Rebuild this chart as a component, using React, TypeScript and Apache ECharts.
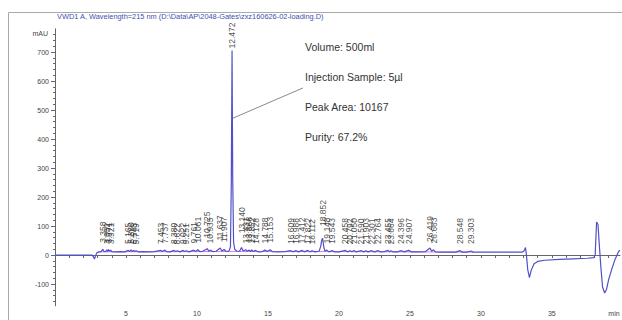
import React, { useEffect, useRef } from "react";
import * as echarts from "echarts";

const titleText = "VWD1 A, Wavelength=215 nm (D:\\Data\\AP\\2048-Gates\\zxz160626-02-loading.D)";
const annotations = ["Volume: 500ml", "Injection Sample: 5µl", "Peak Area: 10167", "Purity: 67.2%"];

const signal: [number, number][] = [
  [0, 0], [1.3, 0], [2.6, 0], [2.7, -5], [2.78, -14], [2.86, -2], [2.95, 8], [3.1, 11], [3.25, 12], [3.36, 20], [3.45, 12],
  [3.6, 13], [3.65, 18], [3.71, 12], [3.77, 19], [3.84, 13], [3.92, 17], [4.0, 12], [4.3, 11], [4.6, 12], [4.9, 11],
  [5.17, 16], [5.25, 12], [5.36, 18], [5.45, 12], [5.54, 16], [5.62, 12], [5.72, 15], [5.85, 11], [6.2, 12], [6.6, 11],
  [7.0, 12], [7.45, 16], [7.55, 12], [7.74, 17], [7.85, 12], [8.1, 11], [8.38, 16], [8.5, 12], [8.62, 15], [8.8, 11],
  [9.02, 16], [9.12, 12], [9.25, 15], [9.45, 11], [9.76, 17], [9.9, 12], [10.06, 18], [10.2, 12], [10.4, 13], [10.73, 22],
  [10.83, 13], [10.94, 17], [11.1, 12], [11.35, 13], [11.64, 24], [11.75, 14], [11.91, 19], [12.05, 13], [12.25, 13],
  [12.36, 28], [12.42, 250], [12.472, 705], [12.52, 260], [12.58, 45], [12.66, 20], [12.8, 14], [13.0, 13], [13.14, 26],
  [13.25, 14], [13.43, 18], [13.55, 13], [13.67, 17], [13.78, 12], [13.85, 18], [13.97, 12], [14.13, 16], [14.3, 11],
  [14.6, 12], [14.79, 17], [14.95, 12], [15.15, 18], [15.3, 12], [15.7, 11], [16.2, 12], [16.61, 15], [16.75, 11],
  [16.99, 15], [17.15, 11], [17.41, 16], [17.55, 11], [17.82, 16], [17.95, 11], [18.11, 15], [18.3, 11], [18.6, 13],
  [18.72, 30], [18.79, 52], [18.852, 58], [18.93, 30], [19.0, 14], [19.15, 17], [19.3, 11], [19.54, 15], [19.7, 11],
  [20.0, 11], [20.46, 16], [20.6, 11], [20.79, 15], [20.92, 11], [21.05, 16], [21.2, 11], [21.59, 15], [21.75, 11],
  [21.9, 15], [22.05, 11], [22.3, 15], [22.5, 11], [22.76, 15], [22.95, 11], [23.2, 12], [23.46, 16], [23.56, 11],
  [23.66, 15], [23.8, 11], [24.1, 11], [24.4, 15], [24.6, 11], [24.91, 16], [25.1, 11], [25.6, 11], [26.1, 12],
  [26.42, 24], [26.53, 13], [26.66, 18], [26.8, 11], [27.3, 10], [27.8, 10], [28.2, 10], [28.55, 15], [28.7, 10],
  [29.0, 10], [29.3, 14], [29.45, 10], [30, 10], [31, 10], [32, 10], [32.9, 10], [33.0, 12], [33.08, 18], [33.14, 26],
  [33.2, 5], [33.3, -50], [33.42, -78], [33.55, -52], [33.75, -30], [34.0, -22], [34.5, -18], [35.5, -15], [36.5, -13],
  [37.5, -11], [37.95, -9], [38.05, 0], [38.15, 114], [38.25, 105], [38.35, 30], [38.45, -40], [38.57, -110],
  [38.72, -131], [38.85, -118], [39.0, -85], [39.2, -52], [39.45, -15], [39.7, 12], [39.8, 17],
];

const integrationBaseline: [number, number][] = [[3.0, 11], [12.3, 12], [18.6, 12], [29.5, 10]];

const peakTimes = [
  3.358, 3.652, 3.771, 3.921, 5.165, 5.36, 5.543, 5.719, 7.453, 7.737, 8.38, 8.622, 9.022, 9.251, 9.761, 10.061,
  10.725, 10.935, 11.637, 11.907, 12.472, 13.14, 13.431, 13.668, 13.852, 14.128, 14.788, 15.153, 16.609, 16.988,
  17.412, 17.822, 18.112, 18.852, 19.148, 19.543, 20.458, 20.792, 21.05, 21.59, 21.903, 22.301, 22.764, 23.455,
  23.664, 24.396, 24.907, 26.419, 26.663, 28.548, 29.303,
];
const labelBase = [
  42, 38, 40, 38, 38, 40, 38, 36, 38, 40, 38, 36, 38, 36, 40, 42,
  60, 40, 50, 44, 712, 75, 40, 42, 40, 38, 40, 42, 38, 38,
  40, 38, 36, 100, 40, 38, 38, 36, 38, 36, 38, 36, 38, 38,
  36, 38, 38, 45, 40, 38, 38,
];

const yTicks = [-100, 0, 100, 200, 300, 400, 500, 600, 700];
const yMinorTicks = [-160, -140, -120, -80, -60, -40, -20, 20, 40, 60, 80, 120, 140, 160, 180, 220, 240, 260, 280, 320, 340, 360, 380, 420, 440, 460, 480, 520, 540, 560, 580, 620, 640, 660, 680, 720, 740, 760];
const xLabels = [5, 10, 15, 20, 25, 30, 35];
const xTicks = [1, 2, 3, 4, 5, 6, 7, 8, 9, 10, 11, 12, 13, 14, 15, 16, 17, 18, 19, 20, 21, 22, 23, 24, 25, 26, 27, 28, 29, 30, 31, 32, 33, 34, 35, 36, 37, 38, 39];
const leader: [number, number][] = [[12.54, 472], [17.46, 576]];

const FONT = "Liberation Sans";

export default function App() {
  const ref = useRef<HTMLDivElement>(null);
  useEffect(() => {
    if (!ref.current) return;
    const chart = echarts.init(ref.current, null, { renderer: "svg" });
    const axisColor = "#666";
    chart.setOption({
      animation: false,
      backgroundColor: "#fff",
      grid: { left: 55, right: 2, top: 28.8, bottom: 14.2, containLabel: false },
      xAxis: {
        type: "value",
        min: 0,
        max: 39.8,
        splitLine: { show: false },
        axisLine: { show: true, lineStyle: { color: axisColor, width: 1 } },
        axisTick: { show: true, customValues: xTicks, length: 3, lineStyle: { color: axisColor } },
        axisLabel: { customValues: xLabels, fontSize: 7, color: "#444", margin: 4, fontFamily: FONT },
      },
      yAxis: [
        {
          type: "value",
          min: -175,
          max: 780,
          splitLine: { show: false },
          axisLine: { show: true, lineStyle: { color: axisColor, width: 1 } },
          axisTick: { show: true, customValues: yTicks, length: 4, lineStyle: { color: axisColor } },
          axisLabel: { customValues: yTicks, fontSize: 7, color: "#444", margin: 6, fontFamily: FONT },
        },
        {
          type: "value",
          min: -175,
          max: 780,
          position: "left",
          splitLine: { show: false },
          axisLine: { show: false },
          axisTick: { show: true, customValues: yMinorTicks, length: 2, lineStyle: { color: axisColor } },
          axisLabel: { show: false, customValues: yMinorTicks },
        },
      ],
      series: [
        {
          type: "line",
          data: integrationBaseline,
          showSymbol: false,
          symbol: "none",
          lineStyle: { color: "#e27ae2", width: 1 },
          z: 1,
        },
        {
          type: "line",
          data: signal,
          showSymbol: false,
          symbol: "none",
          lineStyle: { color: "#5050c8", width: 1.2 },
          z: 2,
          markLine: {
            silent: true,
            symbol: "none",
            label: { show: false },
            lineStyle: { color: "#8a8a8a", width: 1, type: "solid" },
            data: [[{ coord: leader[0] }, { coord: leader[1] }]],
          },
        },
        {
          type: "scatter",
          data: peakTimes.map((t, i) => [t, labelBase[i]]),
          symbolSize: 0,
          z: 3,
          label: {
            show: true,
            position: "top",
            distance: 0,
            rotate: 90,
            align: "left",
            verticalAlign: "middle",
            fontSize: 8.5,
            color: "#222",
            fontFamily: FONT,
            formatter: (p: any) => p.value[0].toFixed(3),
          },
        },
      ],
      graphic: [
        { type: "rect", shape: { x: 8.5, y: 12.5, width: 640, height: 340 }, style: { fill: "none", stroke: "#aaa", lineWidth: 1 }, silent: true },
        { type: "text", x: 57, y: 16, style: { text: titleText, fontSize: 7.4, fill: "#4050b0", fontFamily: FONT, textVerticalAlign: "middle" } },
        { type: "text", x: 48, y: 33, style: { text: "mAU", fontSize: 7, fill: "#444", fontFamily: FONT, textAlign: "right", textVerticalAlign: "middle" } },
        { type: "text", x: 614, y: 313, style: { text: "min", fontSize: 7, fill: "#444", fontFamily: FONT, textAlign: "center", textVerticalAlign: "middle" } },
        ...annotations.map((a, i) => ({
          type: "text",
          x: 305,
          y: 47 + i * 30,
          style: { text: a, fontSize: 10.5, fill: "#333", fontFamily: FONT, textVerticalAlign: "middle" },
        })),
      ],
    });
    return () => chart.dispose();
  }, []);
  return <div ref={ref} style={{ width: 622, height: 320, position: "absolute", left: 0, top: 0 }} />;
}
